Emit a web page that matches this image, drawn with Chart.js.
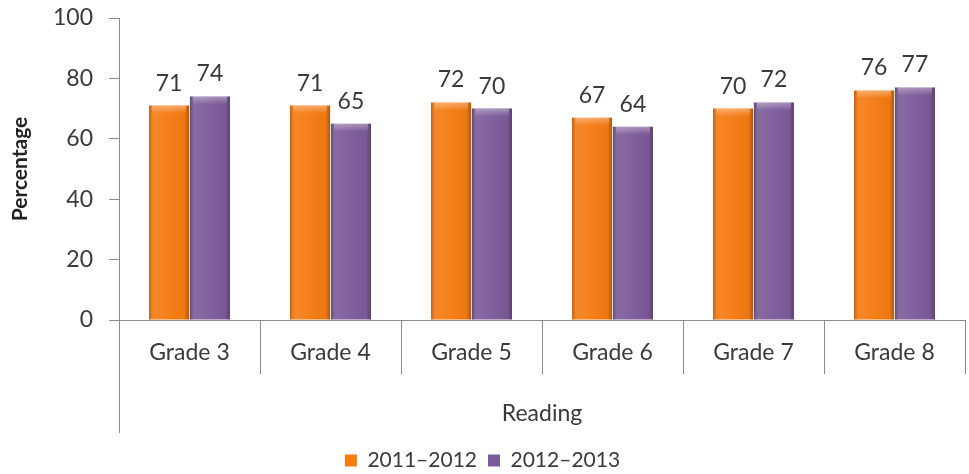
<!DOCTYPE html>
<html>
<head>
<meta charset="utf-8">
<script src="https://cdn.jsdelivr.net/npm/chart.js@4/dist/chart.umd.min.js"></script>
<style>
  html, body { margin: 0; padding: 0; background: #fff; }
  #wrap { width: 969px; height: 474px; }
</style>
</head>
<body>
<div id="wrap"><canvas id="chart"></canvas></div>
<script>
const grades = ["Grade 3", "Grade 4", "Grade 5", "Grade 6", "Grade 7", "Grade 8"];
const year2011 = [71, 71, 72, 67, 70, 76];
const year2012 = [74, 65, 70, 64, 72, 77];
const yTicks = [0, 20, 40, 60, 80, 100];

const FONT = "Lato, 'Open Sans', sans-serif";
const AXIS_GREY = "#8c8c8c";
const TEXT = "#3a3a3a";

// shades the bars so they look bevelled, then writes the value on top
const barLook = {
  id: "barLook",
  afterDatasetsDraw(chart) {
    const ctx = chart.ctx;
    chart.data.datasets.forEach((ds, di) => {
      const meta = chart.getDatasetMeta(di);
      meta.data.forEach((bar, i) => {
        const w = bar.width, l = bar.x - w / 2, r = bar.x + w / 2;
        const top = bar.y, bottom = bar.base;
        ctx.save();
        const g = ctx.createLinearGradient(l, 0, r, 0);
        g.addColorStop(0, "rgba(0,0,0,0.22)");
        g.addColorStop(0.12, "rgba(255,255,255,0.10)");
        g.addColorStop(0.5, "rgba(255,255,255,0.04)");
        g.addColorStop(0.88, "rgba(0,0,0,0.02)");
        g.addColorStop(1, "rgba(0,0,0,0.28)");
        ctx.fillStyle = g;
        ctx.fillRect(l, top, w, bottom - top);
        const t = ctx.createLinearGradient(0, top, 0, top + 8);
        t.addColorStop(0, "rgba(255,255,255,0.35)");
        t.addColorStop(1, "rgba(255,255,255,0)");
        ctx.fillStyle = t;
        ctx.fillRect(l + 3, top, w - 6, 8);
        ctx.restore();

        ctx.save();
        ctx.fillStyle = TEXT;
        ctx.font = "23px " + FONT;
        ctx.textAlign = "center";
        ctx.textBaseline = "bottom";
        ctx.fillText(ds.data[i], bar.x, top - 11);
        ctx.restore();
      });
    });
  }
};

// category separators under the axis and the long left axis line
const axisLines = {
  id: "axisLines",
  afterDraw(chart) {
    const ctx = chart.ctx;
    const x = chart.scales.x;
    const area = chart.chartArea;
    ctx.save();
    ctx.strokeStyle = AXIS_GREY;
    ctx.lineWidth = 1;
    ctx.beginPath();
    ctx.moveTo(area.left + 0.5, area.bottom);
    ctx.lineTo(area.left + 0.5, area.bottom + 113);
    const step = x.width / grades.length;
    for (let i = 1; i <= grades.length; i++) {
      const px = Math.round(x.getPixelForValue(i - 1) + step / 2) + 0.5;
      ctx.moveTo(px, area.bottom);
      ctx.lineTo(px, area.bottom + 54);
    }
    ctx.stroke();
    ctx.restore();
  }
};

new Chart(document.getElementById("chart"), {
  type: "bar",
  data: {
    labels: grades,
    datasets: [
      {
        label: "2011\u20132012",
        data: year2011,
        backgroundColor: "#f47a12",
        borderWidth: 0
      },
      {
        label: "2012\u20132013",
        data: year2012,
        backgroundColor: "#7b5a99",
        borderWidth: 0
      }
    ]
  },
  options: {
    responsive: true,
    maintainAspectRatio: false,
    animation: false,
    layout: { padding: { top: 18, right: 4, left: 0, bottom: -7 } },
    datasets: { bar: { categoryPercentage: 0.58, barPercentage: 0.98 } },
    plugins: {
      tooltip: { enabled: false },
      legend: {
        position: "bottom",
        labels: {
          color: TEXT,
          font: { family: FONT, size: 21 },
          boxWidth: 12,
          boxHeight: 12,
          padding: 11
        }
      }
    },
    scales: {
      x: {
        afterFit(scale) { scale.height = 119; },
        grid: { display: false },
        border: { color: AXIS_GREY },
        ticks: { color: TEXT, font: { family: FONT, size: 23 }, padding: 11 },
        title: {
          display: true,
          text: "Reading",
          color: TEXT,
          font: { family: FONT, size: 23 },
          padding: { top: 0, bottom: 12 }
        }
      },
      y: {
        min: 0,
        max: 100,
        afterFit(scale) {
          scale.width = 119;
          scale.paddingTop = 0;
          scale.paddingBottom = 0;
        },
        afterBuildTicks(scale) { scale.ticks = yTicks.map(v => ({ value: v })); },
        grid: { drawOnChartArea: false, color: AXIS_GREY, tickLength: 10 },
        border: { color: AXIS_GREY },
        ticks: { color: TEXT, font: { family: FONT, size: 23 }, padding: 16 },
        title: {
          display: true,
          text: "Percentage",
          color: "#222",
          font: { family: FONT, size: 21, weight: "bold" },
          padding: { top: 8, bottom: 0 }
        }
      }
    }
  },
  plugins: [barLook, axisLines]
});
</script>
</body>
</html>
